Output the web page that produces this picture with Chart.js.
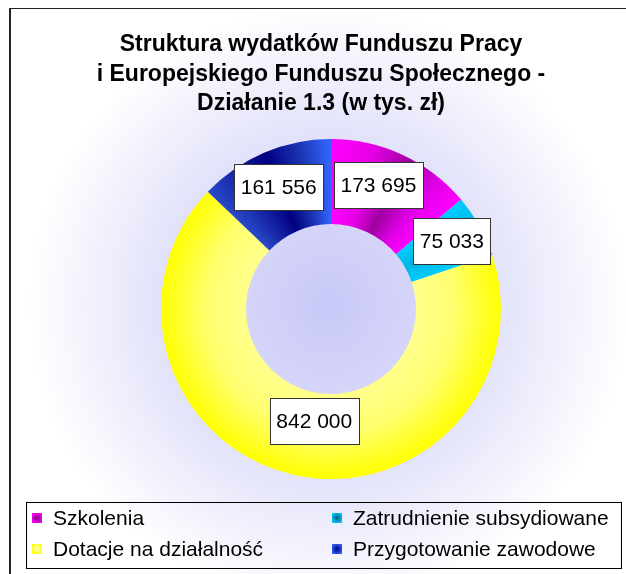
<!DOCTYPE html>
<html>
<head>
<meta charset="utf-8">
<script src="https://cdn.jsdelivr.net/npm/chart.js@4"></script>
<style>
  html, body { margin: 0; padding: 0; background: #fff; overflow: hidden; }
  canvas { display: block; }
</style>
</head>
<body>
<canvas id="fpChart" width="626" height="574"></canvas>
<script>
// Struktura wydatkow FP i EFS - Dzialanie 1.3 (w tys. zl)

const titleLines = [
  'Struktura wydatków Funduszu Pracy',
  'i Europejskiego Funduszu Społecznego -',
  'Działanie 1.3 (w tys. zł)'
];
const categories = ['Szkolenia', 'Zatrudnienie subsydiowane', 'Dotacje na działalność', 'Przygotowanie zawodowe'];
const values = [173695, 75033, 842000, 161556];
const valueLabels = ['173 695', '75 033', '842 000', '161 556'];

// colour stops for each slice (edge -> middle -> edge)
const sliceStops = [
  [[0, '#ff00ff'], [0.3, '#e600e6'], [0.55, '#a000a0'], [0.8, '#e000e8'], [1, '#ff00ff']],
  [[0, '#00ccff'], [0.5, '#00b4e0'], [1, '#00ccff']],
  null, // yellow uses a radial gradient
  [[0, '#2848c8'], [0.5, '#000080'], [0.75, '#1a33b0'], [1, '#3366ff']]
];
const markerColors = [
  ['#ff00ff', '#800080'],
  ['#00ccff', '#006080'],
  ['#ffff00', '#ffffc0'],
  ['#3366ff', '#000080']
];
const FONT = '"Liberation Sans", Arial, sans-serif';

function sliceColor(context) {
  const chart = context.chart;
  const area = chart.chartArea;
  const i = context.dataIndex;
  if (!area || i === undefined) return '#ffff00';
  const c = chart.ctx;
  const cx = (area.left + area.right) / 2;
  const cy = (area.top + area.bottom) / 2;
  const outer = Math.min(area.right - area.left, area.bottom - area.top) / 2;
  const total = values.reduce((a, b) => a + b, 0);
  let cum = 0;
  for (let k = 0; k < i; k++) cum += values[k];
  const frac = values[i] / total;
  if (!sliceStops[i]) {
    const g = c.createRadialGradient(cx, cy, outer * 0.5, cx, cy, outer);
    g.addColorStop(0, '#ffff8c');
    g.addColorStop(0.45, '#ffff70');
    g.addColorStop(1, '#ffff00');
    return g;
  }
  const g = c.createConicGradient(-Math.PI / 2 + 2 * Math.PI * cum / total, cx, cy);
  sliceStops[i].forEach(s => g.addColorStop(s[0] * frac, s[1]));
  return g;
}

// frame + background, title, value boxes and legend
const decorPlugin = {
  id: 'decor',
  beforeDraw(chart) {
    const c = chart.ctx;
    c.save();
    const bg = c.createRadialGradient(328, 305, 0, 328, 305, 300);
    bg.addColorStop(0, '#c8c8f8');
    bg.addColorStop(0.55, '#e1e1fa');
    bg.addColorStop(1, '#ffffff');
    c.fillStyle = bg;
    c.fillRect(10, 9, chart.width, chart.height);
    c.fillStyle = '#222';
    c.fillRect(9, 8, 2, chart.height);
    c.fillRect(9, 8, chart.width, 1);
    c.restore();
  },
  afterDraw(chart, args, opts) {
    const c = chart.ctx;
    c.save();
    // title
    c.fillStyle = '#000';
    c.textAlign = 'center';
    c.textBaseline = 'middle';
    c.font = 'bold 23px ' + FONT;
    titleLines.forEach((t, k) => c.fillText(t, 321, 45 + k * 29.5));

    // value boxes
    const meta = chart.getDatasetMeta(0);
    c.font = '21px ' + FONT;
    meta.data.forEach((arc, i) => {
      const mid = (arc.startAngle + arc.endAngle) / 2 + opts.labelShift[i] * Math.PI / 180;
      const r = arc.outerRadius * opts.labelRadius[i];
      const x = arc.x + Math.cos(mid) * r;
      const y = arc.y + Math.sin(mid) * r;
      const w = c.measureText(valueLabels[i]).width + 13;
      const h = 46;
      c.fillStyle = '#fff';
      c.fillRect(Math.round(x - w / 2), Math.round(y - h / 2), Math.round(w), h);
      c.strokeStyle = '#333';
      c.lineWidth = 1;
      c.strokeRect(Math.round(x - w / 2) + 0.5, Math.round(y - h / 2) + 0.5, Math.round(w), h);
      c.fillStyle = '#000';
      c.fillText(valueLabels[i], x, y + 1);
    });

    // legend
    const box = { left: 26, top: 502, right: 621, bottom: 568 };
    c.strokeStyle = '#000';
    c.strokeRect(box.left + 0.5, box.top + 0.5, box.right - box.left, box.bottom - box.top);
    c.beginPath();
    c.rect(box.left + 1, box.top + 1, box.right - box.left - 1, box.bottom - box.top - 1);
    c.clip();
    c.textAlign = 'left';
    c.font = '21px ' + FONT;
    const colX = [32, 332];
    const rowY = [518, 549];
    chart.data.labels.forEach((lab, i) => {
      const mx = colX[i % 2], my = rowY[Math.floor(i / 2)];
      const mg = c.createRadialGradient(mx + 5, my + 0, 0, mx + 5, my, 6);
      mg.addColorStop(0, markerColors[i][1]);
      mg.addColorStop(1, markerColors[i][0]);
      c.fillStyle = mg;
      c.fillRect(mx, my - 5, 10, 10);
      c.fillStyle = '#000';
      c.fillText(lab, mx + 21, my + 1);
    });
    c.restore();
  }
};

const ctx = document.getElementById('fpChart').getContext('2d');
new Chart(ctx, {
  type: 'doughnut',
  data: {
    labels: categories,
    datasets: [{
      data: values,
      backgroundColor: sliceColor,
      borderWidth: 0,
      hoverOffset: 0
    }]
  },
  options: {
    responsive: false,
    animation: false,
    cutout: '50%',
    layout: { padding: { left: 161, right: 125, top: 139, bottom: 95 } },
    plugins: {
      legend: { display: false },
      title: { display: false },
      tooltip: { enabled: false },
      decor: { labelRadius: [0.78, 0.815, 0.665, 0.78], labelShift: [-4, 0, -4, 0] }
    }
  },
  plugins: [decorPlugin]
});
</script>
</body>
</html>
